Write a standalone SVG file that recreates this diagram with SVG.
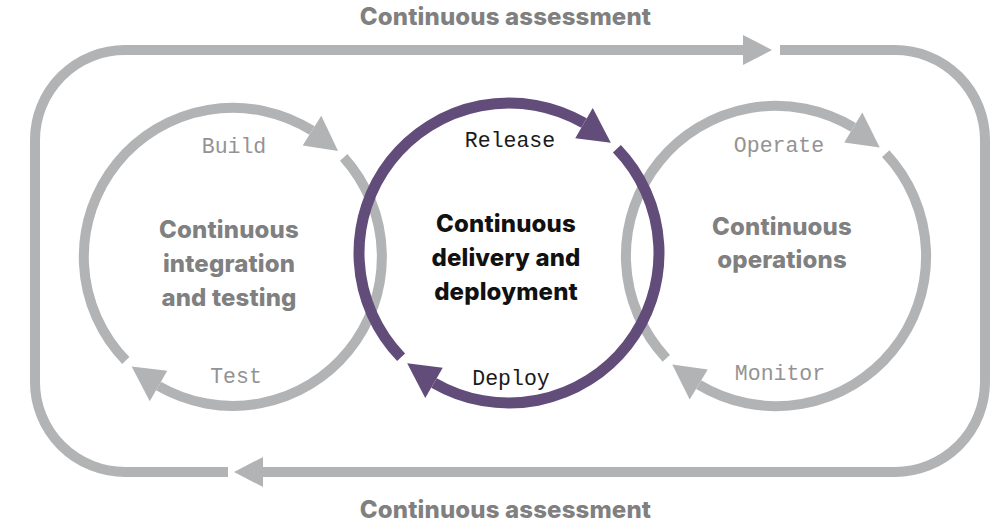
<svg xmlns="http://www.w3.org/2000/svg" width="1005" height="525" viewBox="0 0 1005 525">
  <style>
    .gray { fill: none; stroke: #b1b3b4; stroke-width: 10; }
    .purple { fill: none; stroke: #614c7a; stroke-width: 11; }
    .title { font-family: Inter, "Open Sans", sans-serif; font-weight: 800; font-size: 24px; letter-spacing: 0.15px; text-anchor: middle; }
    .t-gray { fill: #808080; }
    .t-black { fill: #111111; }
    .mono { font-family: "Liberation Mono", "DejaVu Sans Mono", monospace; font-size: 21.5px; text-anchor: middle; }
    .m-gray { fill: #939393; }
    .m-black { fill: #1a1a1a; }
  </style>
  <defs>
    <marker id="arrGrayStraight" markerUnits="userSpaceOnUse" markerWidth="40" markerHeight="40" refX="0" refY="0" orient="auto" overflow="visible">
      <path d="M0,-15 L29,0 L0,15 Z" fill="#b1b3b4"/>
    </marker>
    <marker id="arrGrayArc" markerUnits="userSpaceOnUse" markerWidth="40" markerHeight="40" refX="0" refY="0" orient="auto" overflow="visible">
      <path d="M0,-17.5 L33,3.5 L0,17.5 Z" fill="#b1b3b4"/>
    </marker>
    <marker id="arrPurpleArc" markerUnits="userSpaceOnUse" markerWidth="40" markerHeight="40" refX="0" refY="0" orient="auto" overflow="visible">
      <path d="M0,-17.5 L33,3.5 L0,17.5 Z" fill="#614c7a"/>
    </marker>
  </defs>

  <g id="connectors">
    <path id="assessment-top" class="gray" d="M228,472 H125 A90,90 0 0 1 35,382 V140 A90,90 0 0 1 125,50 H743" marker-end="url(#arrGrayStraight)"/>
    <path id="assessment-bottom" class="gray" d="M780,50 H895 A90,90 0 0 1 985,140 V382 A90,90 0 0 1 895,472 H263" marker-end="url(#arrGrayStraight)"/>
  </g>

  <g id="ci-loop">
    <path class="gray" d="M125.8,360.5 A149,149 0 0 1 312.0,130.6" marker-end="url(#arrGrayArc)"/>
    <path class="gray" d="M343.7,157.3 A149,149 0 0 1 158.5,386.0" marker-end="url(#arrGrayArc)"/>
    <text class="mono m-gray" x="234" y="153">Build</text>
    <text class="mono m-gray" x="236" y="383">Test</text>
    <text class="title t-gray" x="229" y="238">Continuous</text>
    <text class="title t-gray" x="229" y="272">integration</text>
    <text class="title t-gray" x="229" y="306">and testing</text>
  </g>

  <g id="co-loop">
    <path class="gray" d="M666.3,358.3 A150,150 0 0 1 853.3,127.4" marker-end="url(#arrGrayArc)"/>
    <path class="gray" d="M885.7,153.7 A150,150 0 0 1 698.7,384.6" marker-end="url(#arrGrayArc)"/>
    <text class="mono m-gray" x="779" y="152">Operate</text>
    <text class="mono m-gray" x="780" y="380">Monitor</text>
    <text class="title t-gray" x="782" y="235">Continuous</text>
    <text class="title t-gray" x="782" y="268">operations</text>
  </g>

  <g id="cd-loop">
    <path class="purple" d="M401.1,357.2 A150,150 0 0 1 584,123.1" marker-end="url(#arrPurpleArc)"/>
    <path class="purple" d="M616.9,148.8 A150,150 0 0 1 434,382.9" marker-end="url(#arrPurpleArc)"/>
    <text class="mono m-black" x="510" y="147">Release</text>
    <text class="mono m-black" x="511" y="385">Deploy</text>
    <text class="title t-black" x="506" y="232">Continuous</text>
    <text class="title t-black" x="506" y="266">delivery and</text>
    <text class="title t-black" x="506" y="300">deployment</text>
  </g>

  <g id="labels">
    <text class="title t-gray" x="505.5" y="25">Continuous assessment</text>
    <text class="title t-gray" x="505.5" y="518">Continuous assessment</text>
  </g>
</svg>
